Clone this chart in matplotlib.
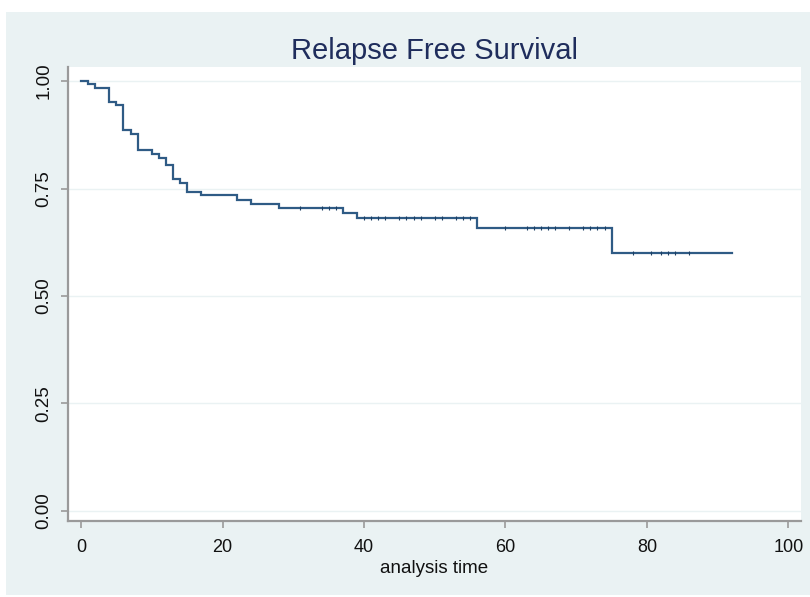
import numpy as np
import matplotlib
matplotlib.use("Agg")
import matplotlib.pyplot as plt
from matplotlib.patches import Rectangle

# ---- data ----
event_times = [1, 2, 4, 5, 6, 7, 8, 10, 11, 12, 13, 14, 15, 17, 22, 24, 28, 37, 39, 56, 75]
survival = [0.993, 0.983, 0.952, 0.944, 0.885, 0.876, 0.840, 0.831, 0.822, 0.805,
            0.772, 0.762, 0.743, 0.734, 0.723, 0.714, 0.704, 0.692, 0.681, 0.659, 0.599]
censor_times = [31, 34, 35, 36, 40, 41, 42, 43, 45, 46, 47, 48, 50, 51, 53, 54, 55,
                60, 63, 64, 65, 66, 67, 69, 71, 72, 73, 74, 78, 80.5, 82, 83, 84, 86]
end_time = 92
x_ticks = [0, 20, 40, 60, 80, 100]
y_ticks = [0.00, 0.25, 0.50, 0.75, 1.00]
title_text = "Relapse Free Survival"
x_label = "analysis time"

font = ["Liberation Sans Narrow", "Liberation Sans", "DejaVu Sans"]
plt.rcParams["font.family"] = font

line_color = "#2f5b85"
bg_color = "#eaf2f3"
axis_color = "#9a9a9a"

fig = plt.figure(figsize=(8.10, 5.97), dpi=100, facecolor="white")
W, H = 810, 597
bg = Rectangle((6 / W, 2 / H), 1 - 6 / W, (H - 12 - 2) / H,
               transform=fig.transFigure, facecolor=bg_color,
               edgecolor="none", zorder=-10)
fig.patches.append(bg)

left, right, top, bottom = 68, 801, 67, 521
ax = fig.add_axes([left / W, 1 - bottom / H, (right - left) / W, (bottom - top) / H])
ax.set_zorder(5)
ax.set_facecolor("white")

x = [0] + event_times + [end_time]
y = [1.0] + survival + [survival[-1]]
ax.step(x, y, where="post", color=line_color, lw=1.6, solid_joinstyle="miter", zorder=3)

# censor marks
idx = np.searchsorted(np.array(event_times), np.array(censor_times), side="right") - 1
cs = [survival[i] if i >= 0 else 1.0 for i in idx]
ax.plot(censor_times, cs, linestyle="none", marker="|", markersize=2.4,
        markeredgewidth=0.8, color="#1d3f63", zorder=4)

ax.set_xlim(-1.84, 101.77)
ax.set_ylim(-0.0233, 1.0326)
ax.set_xticks(x_ticks)
ax.set_yticks(y_ticks)
ax.set_xticklabels([str(t) for t in x_ticks])
ax.set_yticklabels([f"{t:.2f}" for t in y_ticks], rotation=90, va="center")

for yt in y_ticks:
    ax.axhline(yt, color=bg_color, lw=1.0, zorder=1)

for s in ["top", "right"]:
    ax.spines[s].set_visible(False)
for s in ["left", "bottom"]:
    ax.spines[s].set_color(axis_color)
    ax.spines[s].set_linewidth(1.6)
ax.tick_params(axis="both", colors=axis_color, length=5, width=1.2,
               labelcolor="#111111")
ax.tick_params(axis="x", labelsize=13, pad=8)
ax.tick_params(axis="y", labelsize=13.5, pad=6)

ax.set_xlabel(x_label, fontsize=13.5, color="#111111", labelpad=3)
ax.set_title(title_text, fontsize=21, color="#1f2d5c", pad=6)

fig.savefig("out.png", dpi=100, facecolor="white")
